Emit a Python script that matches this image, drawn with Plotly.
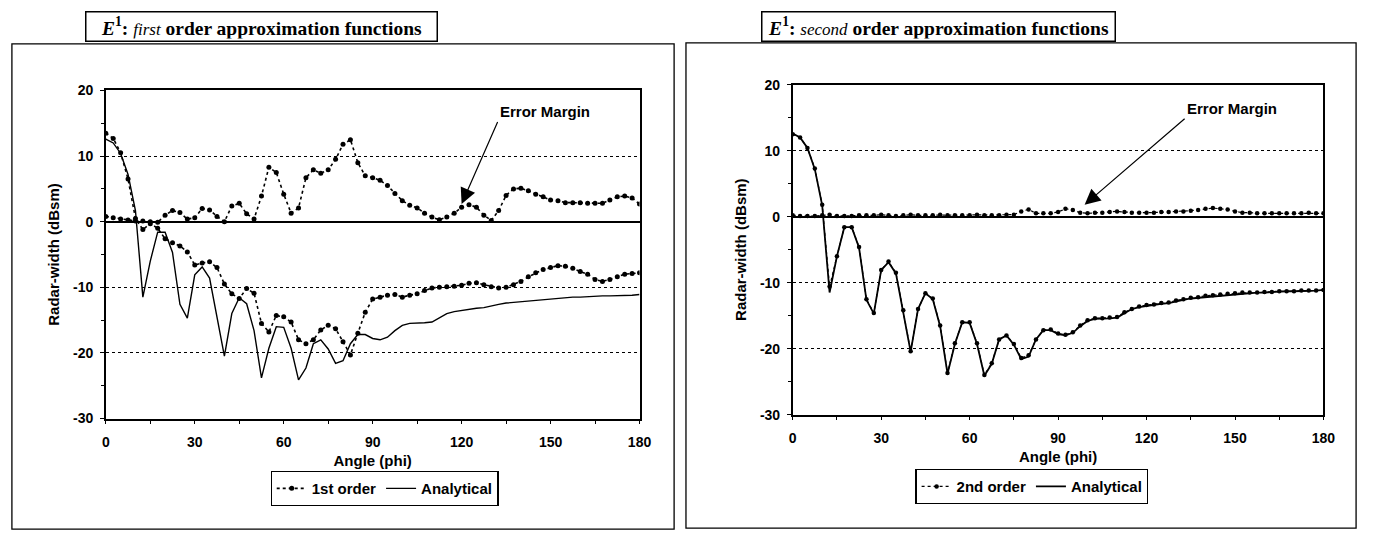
import plotly.graph_objects as go

# ---------------- data ----------------
angle = [0, 2.5, 5, 7.5, 10, 12.5, 15, 17.5, 20, 22.5, 25, 27.5, 30, 32.5, 35, 37.5,
         40, 42.5, 45, 47.5, 50, 52.5, 55, 57.5, 60, 62.5, 65, 67.5, 70, 72.5, 75, 77.5,
         80, 82.5, 85, 87.5, 90, 92.5, 95, 97.5, 100, 102.5, 105, 107.5, 110, 112.5, 115,
         117.5, 120, 122.5, 125, 127.5, 130, 132.5, 135, 137.5, 140, 142.5, 145, 147.5,
         150, 152.5, 155, 157.5, 160, 162.5, 165, 167.5, 170, 172.5, 175, 177.5, 180]

analytical = [12.6, 12.0, 10.4, 7.2, 1.7, -11.5, -6.0, -1.6, -1.6, -4.7, -12.6, -14.7, -8.1,
              -6.9, -8.6, -14.3, -20.5, -14.0, -11.6, -12.5, -16.6, -23.8, -19.3, -16.0,
              -16.1, -19.3, -24.1, -22.3, -18.6, -18.0, -19.4, -21.6, -21.2, -18.6, -17.2,
              -17.2, -17.8, -18.0, -17.6, -16.6, -15.8, -15.5, -15.5, -15.4, -15.3, -14.6,
              -14.0, -13.7, -13.5, -13.4, -13.2, -13.1, -12.8, -12.6, -12.4, -12.3, -12.1,
              -12.0, -11.9, -11.8, -11.7, -11.6, -11.6, -11.5, -11.5, -11.4, -11.4, -11.3,
              -11.3, -11.3, -11.2, -11.2, -11.1]

first_order = [13.5, 12.7, 10.5, 6.5, 0.5, -1.2, -0.3, -1.0, -2.6, -3.2, -3.7, -4.6, -6.6,
               -6.3, -6.1, -7.0, -9.5, -11.0, -11.7, -10.2, -10.9, -15.5, -16.8, -14.3,
               -14.5, -15.3, -18.0, -18.6, -18.0, -16.5, -15.8, -16.3, -18.3, -20.3, -17.0,
               -13.8, -11.8, -11.5, -11.2, -11.1, -11.5, -11.2, -11.0, -10.5, -10.1, -10.0,
               -9.9, -9.85, -9.7, -9.4, -9.3, -9.6, -9.9, -10.1, -10.0, -9.6, -9.1, -8.4,
               -7.8, -7.3, -7.0, -6.7, -6.8, -7.1, -7.6, -8.0, -8.8, -9.1, -8.8, -8.4, -8.0,
               -7.9, -7.8]

error_first = [0.8, 0.6, 0.4, 0.25, 0.1, 0.1, 0.0, -0.1, 1.0, 1.7, 1.4, 0.4, 0.6, 2.0, 1.8,
               0.8, 0.0, 2.4, 2.8, 1.2, 0.4, 3.9, 8.3, 7.5, 4.2, 1.3, 2.1, 6.7, 7.9, 7.4, 7.9,
               9.5, 11.8, 12.5, 9.0, 7.0, 6.7, 6.3, 5.5, 4.3, 3.2, 2.5, 2.1, 1.3, 0.7, 0.3,
               0.7, 1.3, 2.2, 2.6, 2.2, 1.0, 0.2, 1.7, 4.0, 5.0, 5.1, 4.7, 4.2, 3.8, 3.3, 3.2,
               2.9, 2.9, 2.9, 2.8, 2.8, 2.8, 3.3, 3.8, 3.9, 3.6, 2.7]

second_order = [12.5, 12.0, 10.4, 7.3, 1.8, -10.6, -6.0, -1.6, -1.6, -4.6, -12.5, -14.6,
                -8.1, -6.8, -8.5, -14.2, -20.4, -14.0, -11.6, -12.4, -16.5, -23.7, -19.2,
                -16.0, -16.0, -19.2, -24.0, -22.2, -18.6, -18.0, -19.3, -21.4, -21.0, -18.6,
                -17.2, -17.1, -17.7, -17.9, -17.5, -16.5, -15.7, -15.4, -15.4, -15.3, -15.2,
                -14.5, -14.0, -13.6, -13.4, -13.3, -13.1, -13.0, -12.7, -12.5, -12.3, -12.2,
                -12.0, -11.9, -11.8, -11.7, -11.6, -11.5, -11.5, -11.5, -11.4, -11.4, -11.3,
                -11.3, -11.3, -11.2, -11.2, -11.2, -11.1]

error_second = [0.2, 0.1, 0.1, 0.1, 0.2, 0.3, 0.1, 0.1, 0.1, 0.2, 0.2, 0.2, 0.3, 0.2, 0.1,
                0.2, 0.3, 0.2, 0.2, 0.2, 0.3, 0.2, 0.2, 0.2, 0.2, 0.3, 0.2, 0.2, 0.2, 0.3,
                0.3, 0.8, 1.1, 0.5, 0.5, 0.5, 0.7, 1.2, 1.0, 0.6, 0.5, 0.6, 0.6, 0.7, 0.8,
                0.7, 0.6, 0.6, 0.6, 0.6, 0.7, 0.7, 0.8, 0.8, 0.9, 1.0, 1.2, 1.3, 1.2, 1.1,
                0.8, 0.6, 0.6, 0.5, 0.5, 0.5, 0.5, 0.5, 0.5, 0.5, 0.6, 0.5, 0.5]

x_ticks = [0, 30, 60, 90, 120, 150, 180]
y_ticks = [-30, -20, -10, 0, 10, 20]

titles = ["<b><i>E</i><sup>1</sup>: <i><span style='font-size:17px;font-weight:normal'>first</span></i> order approximation functions</b>",
          "<b><i>E</i><sup>1</sup>: <i><span style='font-size:17px;font-weight:normal'>second</span></i> order approximation functions</b>"]

# ---------------- figure ----------------
W, H = 1375, 542
SANS = "Liberation Sans"
SERIF = "Liberation Serif"

fig = go.Figure()

dot_line = dict(color="black", width=1.6, dash="dot")

# left panel
fig.add_trace(go.Scatter(x=angle, y=error_first, mode="lines+markers", line=dot_line,
                         marker=dict(size=5, color="black"), showlegend=False,
                         xaxis="x", yaxis="y"))
fig.add_trace(go.Scatter(x=angle, y=analytical, mode="lines", name="Analytical",
                         line=dict(color="black", width=1.4), legend="legend",
                         legendrank=2, xaxis="x", yaxis="y"))
fig.add_trace(go.Scatter(x=angle, y=first_order, mode="lines+markers", name="1st order",
                         line=dot_line, marker=dict(size=5, color="black"),
                         legend="legend", legendrank=1, xaxis="x", yaxis="y"))

# right panel
fig.add_trace(go.Scatter(x=angle, y=error_second, mode="lines+markers",
                         line=dict(color="black", width=1.2, dash="dot"),
                         marker=dict(size=4.5, color="black"), showlegend=False,
                         xaxis="x2", yaxis="y2"))
fig.add_trace(go.Scatter(x=angle, y=analytical, mode="lines", name="Analytical",
                         line=dict(color="black", width=1.8), legend="legend2",
                         legendrank=2, xaxis="x2", yaxis="y2"))
fig.add_trace(go.Scatter(x=angle, y=second_order, mode="lines+markers", name="2nd order",
                         line=dict(color="black", width=1.2, dash="dot"),
                         marker=dict(size=4.5, color="black"),
                         legend="legend2", legendrank=1, xaxis="x2", yaxis="y2"))


def xaxis(domain, anchor):
    return dict(domain=domain, anchor=anchor, range=[0, 180], tickvals=x_ticks,
                ticktext=[str(v) for v in x_ticks],
                showgrid=False, zeroline=False, showline=True, linecolor="black",
                linewidth=1.5, mirror=True, ticks="outside", ticklen=4, tickwidth=1,
                tickcolor="black", ticklabelstandoff=6,
                minor=dict(dtick=15, ticks="outside", ticklen=4, tickcolor="black"),
                tickfont=dict(family=SANS, size=14, color="black", weight="bold"),
                title=dict(text="Angle (phi)", standoff=6,
                           font=dict(family=SANS, size=15, color="black", weight="bold")))


def yaxis(domain, anchor):
    return dict(domain=domain, anchor=anchor, range=[-30, 20], tickvals=y_ticks,
                ticktext=[str(v) for v in y_ticks],
                showgrid=True, gridcolor="black", gridwidth=1, griddash="dot",
                zeroline=True, zerolinecolor="black", zerolinewidth=1.6,
                showline=True, linecolor="black", linewidth=1.5, mirror=True,
                ticks="outside", ticklen=4, tickcolor="black", ticklabelstandoff=4,
                minor=dict(dtick=5, ticks="outside", ticklen=3, tickcolor="black", showgrid=False),
                tickfont=dict(family=SANS, size=14, color="black", weight="bold"),
                title=dict(text="Radar-width (dBsm)", standoff=10,
                           font=dict(family=SANS, size=15, color="black", weight="bold")))


def px_x(p):
    return p / W


def px_y(p):
    return 1 - p / H


legend_common = dict(orientation="h", bordercolor="black", borderwidth=1.2, bgcolor="white",
                     xanchor="center", yanchor="middle", itemwidth=30,
                     font=dict(family=SANS, size=15, color="black", weight="bold"),
                     tracegroupgap=0)

arrow_style = dict(showarrow=True, arrowhead=2, arrowsize=2.6, arrowwidth=1.2,
                   arrowcolor="black", xanchor="left", yanchor="bottom",
                   font=dict(family=SANS, size=15, color="black", weight="bold"))

fig.update_layout(
    width=W, height=H, margin=dict(l=0, r=0, t=0, b=0),
    paper_bgcolor="white", plot_bgcolor="white",
    xaxis=xaxis([px_x(103), px_x(643)], "y"),
    yaxis=yaxis([px_y(423), px_y(85)], "x"),
    xaxis2=xaxis([px_x(798), px_x(1335)], "y2"),
    yaxis2=yaxis([px_y(419), px_y(79)], "x2"),
    legend=dict(x=px_x(385), y=px_y(495), **legend_common),
    legend2=dict(x=px_x(1040), y=px_y(493), **legend_common),
    shapes=[
        dict(type="rect", xref="paper", yref="paper", x0=px_x(8), x1=px_x(678),
             y0=px_y(537), y1=px_y(37), line=dict(color="black", width=1.3), layer="below"),
        dict(type="rect", xref="paper", yref="paper", x0=px_x(690), x1=px_x(1368),
             y0=px_y(536), y1=px_y(36), line=dict(color="black", width=1.3), layer="below"),
    ],
    annotations=[
        dict(text=titles[0], xref="paper", yref="paper", x=px_x(261), y=px_y(19),
             xanchor="center", yanchor="middle", showarrow=False, width=346, height=24,
             bordercolor="black", borderwidth=1.5, bgcolor="white", borderpad=2,
             font=dict(family=SERIF, size=19.5, color="black")),
        dict(text=titles[1], xref="paper", yref="paper", x=px_x(946), y=px_y(19),
             xanchor="center", yanchor="middle", showarrow=False, width=348, height=24,
             bordercolor="black", borderwidth=1.5, bgcolor="white", borderpad=2,
             font=dict(family=SERIF, size=19.5, color="black")),
        # "Error Margin" labels with arrows
        dict(text="Error Margin", x=120, y=2.7, xref="x", yref="y", ax=36, ay=-82,
             **arrow_style),
        dict(text="Error Margin", x=99, y=1.8, xref="x2", yref="y2", ax=100, ay=-86,
             **arrow_style),
    ],
)

fig.write_html("out.html", config={"displayModeBar": False},
               post_script="document.body.style.margin='0px';document.body.style.overflow='hidden';")
